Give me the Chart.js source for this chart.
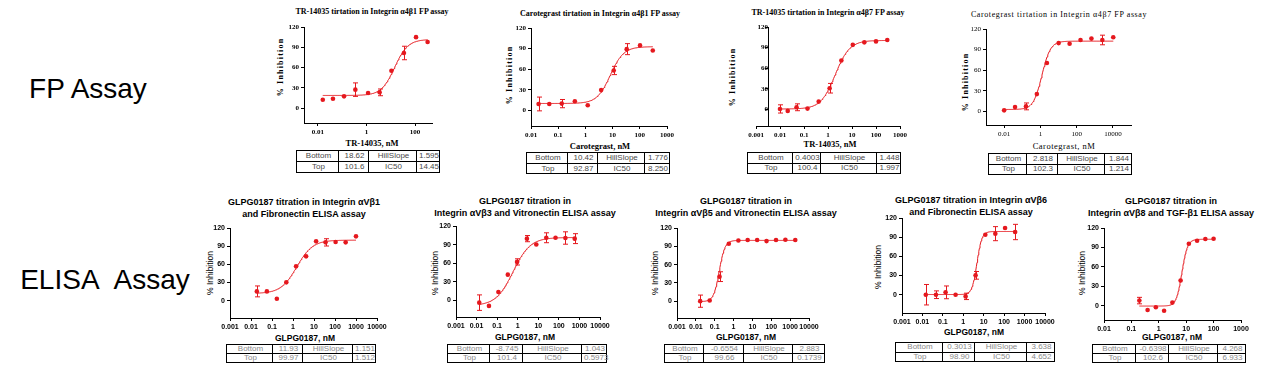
<!DOCTYPE html>
<html lang="en">
<head>
<meta charset="UTF-8">
<title>Integrin titrations - FP and ELISA assays</title>
<script src="https://cdn.jsdelivr.net/npm/chart.js"></script>
<style>
  body {
    margin: 0;
    background: #fff;
    width: 1262px;
    height: 369px;
    overflow: hidden;
    position: relative;
    font-family: 'Liberation Sans', Arial, sans-serif;
  }
  .lbl {
    position: absolute;
    transform: translate(-50%, -50%);
    white-space: nowrap;
    color: #000;
    text-align: center;
  }
  .lbl.rot { transform: translate(-50%, -50%) rotate(-90deg); }
  .assay { font-size: 28px; }
  .fp { font-family: 'Liberation Serif', 'Times New Roman', serif; font-weight: bold; }
  .el { font-family: 'Liberation Sans', Arial, sans-serif; font-weight: bold; }
  canvas { position: absolute; }
  table.fit {
    position: absolute;
    border-collapse: collapse;
    table-layout: fixed;
    font-family: 'Liberation Sans', Arial, sans-serif;
    font-size: 8px;
  }
  table.fit td {
    border: 1px solid #000;
    padding: 0 0 0 2px;
    text-align: center;
    line-height: 1;
    white-space: nowrap;
  }
</style>
</head>
<body>

<div class="lbl assay" style="left:88px; top:89px;">FP Assay</div>
<div class="lbl assay" style="left:105px; top:280px;">ELISA&nbsp; Assay</div>

<script>
  const RED = '#e5181e';
  const SERIF = "'Liberation Serif', 'Times New Roman', serif";
  const SANS = "'Liberation Sans', Arial, sans-serif";

  const yTicks = [0, 30, 60, 90, 120];
  const fitNames = ['Bottom', 'Top', 'HillSlope', 'IC50'];

  // --- FP assay ---
  const fp1Title = 'TR-14035 tirtation in Integrin α4β1 FP assay';
  const fp1Conc = [0.016, 0.042, 0.12, 0.35, 1.17, 3.5, 10.7, 35, 110, 330];
  const fp1Inh = [12.3, 13.8, 17.3, 27.2, 22.2, 23.2, 55.3, 81.5, 105, 97.8];
  const fp1Err = [1.5, 1.5, 2, 10, 2, 5, 2, 10, 3, 2];
  const fp1Fit = ['18.62', '101.6', '1.595', '14.45'];
  const fp1XTicks = ['0.01', '1', '100'];

  const fp2Title = 'Carotegrast tirtation in Integrin α4β1 FP assay';
  const fp2Conc = [0.019, 0.047, 0.135, 0.41, 1.22, 3.8, 11, 33, 102, 300];
  const fp2Inh = [9.7, 9.7, 10.2, 13.6, 7.8, 30, 58.3, 89.3, 94.7, 87.4];
  const fp2Err = [10, 1, 6, 1.5, 1.5, 3, 6, 8, 1.5, 3];
  const fp2Fit = ['10.42', '92.87', '1.776', '8.250'];
  const fp2XTicks = ['0.01', '0.1', '1', '10', '100', '1000'];

  const fp3Title = 'TR-14035 tirtation in Integrin α4β7 FP assay';
  const fp3Conc = [0.01, 0.021, 0.049, 0.14, 0.41, 1.17, 3.6, 10.8, 32.6, 100, 295];
  const fp3Inh = [0.5, -2.4, 2.9, 1, 11.2, 30.7, 71.2, 94, 97.6, 99, 101];
  const fp3Err = [6, 1, 5, 1, 4, 7, 2, 1.5, 1.5, 1, 1];
  const fp3Fit = ['0.4003', '100.4', '1.448', '1.997'];
  const fp3XTicks = ['0.001', '0.01', '0.1', '1', '10', '100', '1000'];

  const fp4Title = 'Carotegrast tirtation in Integrin α4β7 FP assay';
  const fp4Conc = [0.01, 0.04, 0.16, 0.64, 2.3, 10.2, 41, 164, 655, 2620, 10500];
  const fp4Inh = [1.5, 6.3, 7.3, 25.2, 70.4, 99.5, 98.5, 104, 106, 104, 108];
  const fp4Err = [2, 1.5, 5, 4, 2, 1.5, 1.5, 1.5, 1.5, 7, 1.5];
  const fp4Fit = ['2.818', '102.3', '1.844', '1.214'];
  const fp4XTicks = ['0.01', '1', '100', '10000'];

  // --- ELISA assay ---
  const el1Title = ['GLPG0187 titration in Integrin αVβ1', 'and Fibronectin ELISA assay'];
  const el1Conc = [0.019, 0.057, 0.17, 0.48, 1.4, 4.2, 12.6, 35.5, 107, 322, 1000];
  const el1Inh = [15.4, 15.4, 3.3, 30.3, 56.7, 73.2, 98, 96.3, 96.9, 96.3, 106.2];
  const el1Err = [9, 4, 1, 1.5, 4, 1.5, 2, 6, 1.5, 4, 1];
  const el1Fit = ['11.93', '99.97', '1.151', '1.512'];

  const el2Title = ['GLPG0187 titration in', 'Integrin αVβ3 and Vitronectin ELISA assay'];
  const el2Conc = [0.0135, 0.04, 0.115, 0.33, 0.93, 2.8, 8, 24.5, 69, 208, 590];
  const el2Inh = [-3.8, -9.1, 13.5, 41.4, 62, 99.6, 90, 101, 101, 100.6, 99.6];
  const el2Err = [12.5, 1, 1.5, 2, 5, 5, 4, 8, 4, 10, 8];
  const el2Fit = ['-8.745', '101.4', '1.043', '0.5973'];

  const el3Title = ['GLPG0187 titration in', 'Integrin αVβ5 and Vitronectin ELISA assay'];
  const el3Conc = [0.017, 0.054, 0.18, 0.56, 1.8, 5.6, 17.8, 56, 178, 560, 1870];
  const el3Inh = [0, 1.1, 40.2, 94.1, 99.6, 100.2, 100.2, 98.5, 100.2, 100.7, 100.2];
  const el3Err = [10, 1, 8, 4, 1.5, 1, 1, 4, 1, 1, 1];
  const el3Fit = ['-0.6554', '99.66', '2.883', '0.1739'];

  const el4Title = ['GLPG0187 titration in Integrin αVβ6', 'and Fibronectin ELISA assay'];
  const el4Conc = [0.0146, 0.046, 0.136, 0.42, 1.3, 4, 12, 37, 111, 345];
  const el4Inh = [0, 0, 3.7, 0, -2.6, 30.3, 93.9, 95.5, 104.3, 98.1];
  const el4Err = [16, 6, 10, 1, 5, 6, 4, 11, 3, 12];
  const el4Fit = ['0.3013', '98.90', '3.638', '4.652'];

  const el5Title = ['GLPG0187 titration in', 'Integrin αVβ8 and TGF-β1 ELISA assay'];
  const el5Conc = [0.195, 0.39, 0.78, 1.56, 3.125, 6.25, 12.5, 25, 50, 100];
  const el5Inh = [7.8, -6.7, -2.6, -7.8, 4.7, 38.8, 95.7, 100.4, 103, 103.5];
  const el5Err = [5, 4, 1, 1, 1, 1, 1, 1, 1, 1];
  const el5Fit = ['-0.6398', '102.6', '4.268', '6.933'];

  const elWideTicks = ['0.001', '0.01', '0.1', '1', '10', '100', '1000', '10000'];
  const el5XTicks = ['0.01', '0.1', '1', '10', '100', '1000'];

  // layout of each panel (plot box = [left, top(120), right, x-axis])
  const panels = [
    { title: fp1Title, conc: fp1Conc, inh: fp1Inh, err: fp1Err, fit: fp1Fit, ticks: fp1XTicks, xLabel: 'TR-14035, nM',
      kind: 'fp', box: [304, 27, 432, 123], xRange: [0.0027, 500], yMin: -22.2,
      titleAt: [372, 11], xLabelAt: [372, 143], yLabelAt: [280, 67], table: [296, 150, [42, 30, 48, 23], 11] },
    { title: fp2Title, conc: fp2Conc, inh: fp2Inh, err: fp2Err, fit: fp2Fit, ticks: fp2XTicks, xLabel: 'Carotegrast, nM',
      kind: 'fp', box: [531, 28, 667, 126], xRange: [0.01, 1000], yMin: -22.3,
      titleAt: [600, 13], xLabelAt: [600, 146], yLabelAt: [509, 75], table: [526, 152, [41, 30, 47, 25], 10.7] },
    { title: fp3Title, conc: fp3Conc, inh: fp3Inh, err: fp3Err, fit: fp3Fit, ticks: fp3XTicks, xLabel: 'TR-14035, nM',
      kind: 'fp', box: [756, 27, 900, 126], xRange: [0.001, 1000], yMin: -24.4, yCross: 0.0032,
      titleAt: [828, 12], xLabelAt: [830, 144], yLabelAt: [732, 77], table: [747, 152, [45, 28, 56, 24], 10.5] },
    { title: fp4Title, conc: fp4Conc, inh: fp4Inh, err: fp4Err, fit: fp4Fit, ticks: fp4XTicks, xLabel: 'Carotegrast, nM',
      kind: 'fp4', box: [986, 29, 1131, 125], xRange: [0.001, 100000], yMin: -19.8,
      titleAt: [1059, 14], xLabelAt: [1064, 146], yLabelAt: [965, 82], table: [988, 153, [38, 31, 47, 27], 10.5] },
    { title: el1Title, conc: el1Conc, inh: el1Inh, err: el1Err, fit: el1Fit, ticks: elWideTicks, xLabel: 'GLPG0187, nM',
      kind: 'el', box: [230, 228, 377, 318], xRange: [0.001, 10000], yMin: -28.5,
      titleAt: [304, 208], xLabelAt: [305, 338], yLabelAt: [210, 273], table: [226, 344, [46, 30, 50, 23], 9.2] },
    { title: el2Title, conc: el2Conc, inh: el2Inh, err: el2Err, fit: el2Fit, ticks: elWideTicks, xLabel: 'GLPG0187, nM',
      kind: 'el', box: [456, 226, 600, 317], xRange: [0.001, 10000], yMin: -27,
      titleAt: [525, 207], xLabelAt: [525, 337], yLabelAt: [435, 273], table: [447, 344, [42, 33, 59, 25], 8.8] },
    { title: el3Title, conc: el3Conc, inh: el3Inh, err: el3Err, fit: el3Fit, ticks: elWideTicks, xLabel: 'GLPG0187, nM',
      kind: 'el', box: [677, 228, 809, 318], xRange: [0.001, 10000], yMin: -27.6,
      titleAt: [746, 207], xLabelAt: [746, 337], yLabelAt: [655, 273], table: [664, 344, [39, 40, 49, 32], 8.8] },
    { title: el4Title, conc: el4Conc, inh: el4Inh, err: el4Err, fit: el4Fit, ticks: elWideTicks, xLabel: 'GLPG0187, nM',
      kind: 'el', box: [902, 218, 1045, 313], xRange: [0.001, 10000], yMin: -28.6,
      titleAt: [971, 206], xLabelAt: [974, 332], yLabelAt: [878, 267], table: [895, 342, [47, 32, 52, 28], 9.6] },
    { title: el5Title, conc: el5Conc, inh: el5Inh, err: el5Err, fit: el5Fit, ticks: el5XTicks, xLabel: 'GLPG0187, nM',
      kind: 'el', box: [1104, 228, 1241, 320], xRange: [0.01, 1000], yMin: -22.2,
      titleAt: [1171, 207], xLabelAt: [1172, 337], yLabelAt: [1082, 273], table: [1092, 344, [43, 33, 49, 28], 9] }
  ];

  function hill(fit, x) {
    const [bottom, top, slope, ic50] = fit.map(Number);
    return bottom + (top - bottom) / (1 + Math.pow(ic50 / x, slope));
  }

  function fitCurve(fit, conc) {
    const lo = Math.log10(conc[0]);
    const hi = Math.log10(conc[conc.length - 1]);
    const pts = [];
    for (let i = 0; i <= 150; i++) {
      const x = Math.pow(10, lo + (hi - lo) * i / 150);
      pts.push({ x: x, y: hill(fit, x) });
    }
    return pts;
  }

  // error bars drawn through the chart's own scales
  const errorBars = {
    id: 'errorBars',
    afterDatasetsDraw(chart) {
      const ds = chart.data.datasets[0];
      const xs = chart.scales.x, ys = chart.scales.y;
      const ctx = chart.ctx;
      ctx.save();
      ctx.strokeStyle = RED;
      ctx.lineWidth = 1;
      ds.data.forEach((p, i) => {
        const e = ds.errors[i];
        const t = ys.getPixelForValue(p.y + e);
        const b = ys.getPixelForValue(p.y - e);
        if (b - t < 6) return;
        const px = Math.round(xs.getPixelForValue(p.x)) + 0.5;
        ctx.beginPath();
        ctx.moveTo(px, t); ctx.lineTo(px, b);
        ctx.moveTo(px - 2.5, t); ctx.lineTo(px + 2.5, t);
        ctx.moveTo(px - 2.5, b); ctx.lineTo(px + 2.5, b);
        ctx.stroke();
      });
      ctx.restore();
    }
  };

  function addText(text, x, y, cls, css) {
    const d = document.createElement('div');
    d.className = 'lbl ' + cls;
    d.innerHTML = text;
    d.style.left = x + 'px';
    d.style.top = y + 'px';
    Object.assign(d.style, css || {});
    document.body.appendChild(d);
  }

  function addTable(p) {
    const [left, top, cols, rowH] = p.table;
    const tb = document.createElement('table');
    tb.className = 'fit';
    tb.style.left = left + 'px';
    tb.style.top = top + 'px';
    tb.style.width = cols.reduce((a, b) => a + b, 0) + 'px';
    tb.style.color = p.kind === 'el' ? '#8a8a8a' : '#4a4a4a';
    const cg = document.createElement('colgroup');
    cols.forEach(w => { const c = document.createElement('col'); c.style.width = w + 'px'; cg.appendChild(c); });
    tb.appendChild(cg);
    [[0, 2], [1, 3]].forEach(([a, b]) => {
      const tr = document.createElement('tr');
      [fitNames[a], p.fit[a], fitNames[b], p.fit[b]].forEach(txt => {
        const td = document.createElement('td');
        td.textContent = txt;
        td.style.height = (rowH - 1) + 'px';
        tr.appendChild(td);
      });
      tb.appendChild(tr);
    });
    document.body.appendChild(tb);
  }

  panels.forEach(p => {
    const isEl = p.kind === 'el';
    const textCls = isEl ? 'el' : 'fp';

    // titles and axis titles
    const tStyle = isEl ? { fontSize: '9px', lineHeight: '11.5px' }
                        : (p.kind === 'fp4' ? { fontSize: '8px', fontWeight: 'normal', letterSpacing: '0.6px' } : { fontSize: '8px' });
    addText(Array.isArray(p.title) ? p.title.join('<br>') : p.title, p.titleAt[0], p.titleAt[1], textCls, tStyle);
    addText(p.xLabel, p.xLabelAt[0], p.xLabelAt[1], textCls,
      isEl ? { fontSize: '8.5px' } : (p.kind === 'fp4' ? { fontSize: '8.5px', fontWeight: 'normal', letterSpacing: '0.5px' } : { fontSize: '8.5px' }));
    addText('% Inhibition', p.yLabelAt[0], p.yLabelAt[1], textCls + ' rot',
      isEl ? { fontSize: '8.5px', fontWeight: 'normal' } : { fontSize: '8px', letterSpacing: '1.2px' });
    addTable(p);

    // chart canvas
    const [l, t, r, b] = p.box;
    const L = 40, T = 8, R = 24, B = 16;
    const cv = document.createElement('canvas');
    cv.width = (r - l) + L + R;
    cv.height = (b - t) + T + B;
    cv.style.left = (l - L) + 'px';
    cv.style.top = (t - T) + 'px';
    document.body.appendChild(cv);

    const tickFont = { family: isEl ? SANS : SERIF, size: 7, weight: p.kind === 'fp4' ? 'normal' : 'bold' };
    const xTickVals = p.ticks.map(Number);
    const axisGrid = { drawOnChartArea: false, drawTicks: true, tickLength: 3, color: '#000', lineWidth: 1 };
    const axisBorder = { display: true, color: '#000', width: 1 };

    new Chart(cv, {
      type: 'scatter',
      data: {
        datasets: [
          {
            data: p.conc.map((x, i) => ({ x: x, y: p.inh[i] })),
            errors: p.err,
            pointRadius: 2.3,
            pointBackgroundColor: RED,
            pointBorderWidth: 0,
            showLine: false
          },
          {
            type: 'line',
            data: fitCurve(p.fit, p.conc),
            borderColor: RED,
            borderWidth: 1,
            pointRadius: 0,
            tension: 0,
            fill: false
          }
        ]
      },
      options: {
        responsive: false,
        animation: false,
        devicePixelRatio: 1,
        events: [],
        layout: { padding: { left: p.yCross ? L : 0, top: T, right: R, bottom: 0 } },
        plugins: { legend: { display: false }, tooltip: { enabled: false } },
        scales: {
          x: {
            type: 'logarithmic',
            position: 'bottom',
            min: p.xRange[0],
            max: p.xRange[1],
            afterBuildTicks: s => { s.ticks = xTickVals.map(v => ({ value: v })); },
            afterFit: s => { s.height = B; s.paddingLeft = 0; s.paddingRight = 0; },
            grid: axisGrid,
            border: axisBorder,
            ticks: {
              autoSkip: false, maxRotation: 0, minRotation: 0, padding: 2, color: '#000', font: tickFont,
              callback: (v, i) => p.ticks[i]
            }
          },
          y: {
            type: 'linear',
            position: p.yCross ? { x: p.yCross } : 'left',
            min: p.yMin,
            max: 120,
            afterBuildTicks: s => { s.ticks = yTicks.map(v => ({ value: v })); },
            afterFit: s => { s.width = L; s.paddingTop = 0; s.paddingBottom = 0; },
            grid: axisGrid,
            border: axisBorder,
            ticks: { padding: 2, color: '#000', font: tickFont }
          }
        }
      },
      plugins: [errorBars]
    });
  });
</script>

</body>
</html>
